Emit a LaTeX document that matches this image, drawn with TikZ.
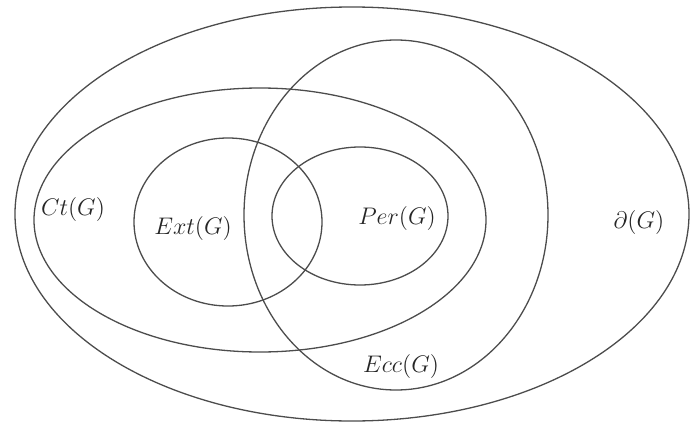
\documentclass[tikz,border=0pt]{standalone}
\begin{document}
\begin{tikzpicture}[x=0.5pt,y=-0.5pt,
  setline/.style={draw=black!70,line width=0.65pt},
  setlabel/.style={font=\fontsize{11.5}{14}\selectfont,text=black!85,inner sep=0pt}]
\useasboundingbox (0,0) rectangle (691,423);
% outer set
\draw[setline] (352,214) ellipse [x radius=337,y radius=-207];
% Ct(G)
\draw[setline] (260,220) ellipse [x radius=226,y radius=-132];
% Ecc(G)
\draw[setline] (396,215) ellipse [x radius=152,y radius=-175];
% Ext(G)
\draw[setline] (228,222) ellipse [x radius=94,y radius=-84];
% Per(G)
\draw[setline] (360,216) ellipse [x radius=88,y radius=-69];
\node[setlabel] (ct) at (73,209) {$Ct(G)$};
\node[setlabel] (ext) at (193,228) {$Ext(G)$};
\node[setlabel] (per) at (397,218) {$Per(G)$};
\node[setlabel] (bd) at (639,222) {$\partial(G)$};
\node[setlabel] (ecc) at (401,366) {$Ecc(G)$};
\end{tikzpicture}
\end{document}
